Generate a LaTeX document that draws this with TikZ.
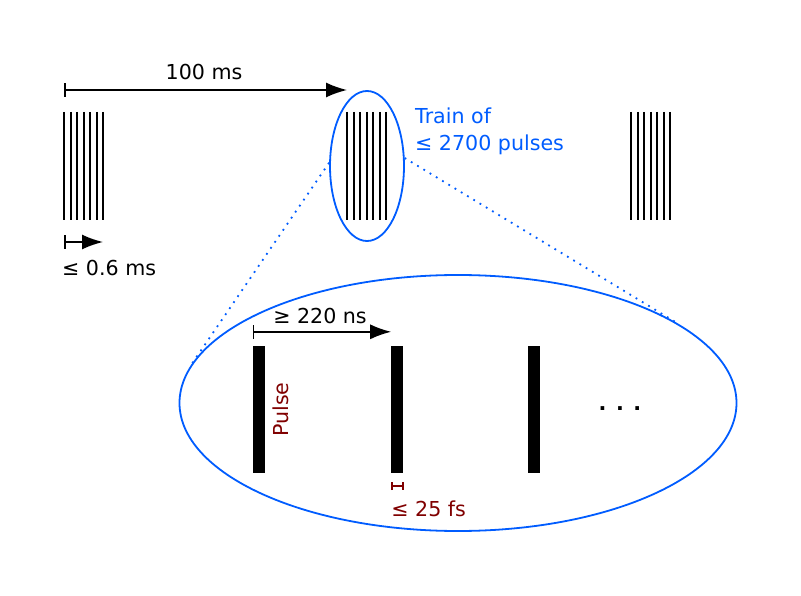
\documentclass[tikz,border=0pt]{standalone}
\usepackage{fontspec}
\setmainfont{DejaVu Sans}
\usepackage{tikz}
\usetikzlibrary{arrows.meta, positioning, shapes.geometric}
\definecolor{ringblue}{RGB}{0,92,255}
\definecolor{pulsered}{RGB}{128,0,0}
\tikzset{
lbl/.style={font=\fontsize{20.6}{27}\selectfont, inner sep=0pt},
train/.style={line width=2pt},
pulse/.style={fill=black, minimum width=12pt, minimum height=127pt, inner sep=0pt},
ring/.style={draw=ringblue, line width=1.8pt, ellipse, inner sep=0pt},
zoomline/.style={ringblue, line width=1.8pt, dash pattern=on 1.8pt off 5.5pt},
span/.style={{Bar[width=14pt]}-{Latex[length=21pt,width=15pt]}, line width=1.6pt},
tiny/.style={{Bar[width=8pt]}-{Bar[width=8pt]}, pulsered, line width=1.5pt}
}

\begin{document}
\begin{tikzpicture}[x=1pt, y=-1pt]
			\useasboundingbox (0,0) rectangle (801,596);
			% pulse trains
			\foreach \t in {64,347,631}
				\foreach \i in {0,...,6}
					\draw[train] (\t+\i*6.55,112) -- (\t+\i*6.55,220);
			% ----
			\coordinate (start) at (64,90);
			\coordinate (next) at (347,90);
			\draw[span] (start) -- (next);
			\node[lbl] (period) at (204,72) {100 ms};
			\coordinate (tstart) at (64,242);
			\coordinate (tend) at (103,242);
			\draw[span] (tstart) -- (tend);
			\node[lbl, anchor=west] (duration) at (62,268) {≤ 0.6 ms};
			% ----
			\node[ring, minimum width=74pt, minimum height=150pt] (small) at (367,166) {};
			\node[lbl, ringblue, anchor=west, align=left] (trainlbl) at (415,131) {Train of\\≤ 2700 pulses};
			\node[ring, minimum width=557pt, minimum height=256pt] (big) at (458,403) {};
			\draw[zoomline] (small.175) -- (big.172);
			\draw[zoomline] (small.12) -- (big.20.6);
			% ----
			\node[pulse] (p1) at (259,409.5) {};
			\node[pulse, right=126pt of p1] (p2) {};
			\node[pulse, right=124pt of p2] (p3) {};
			\node[lbl] (dots) at (620,409) {\textbf{. . .}};
			\draw[span] ([yshift=14pt]p1.north west) -- ([yshift=14pt]p2.north west);
			\node[lbl] (gap) at (320,316) {≥ 220 ns};
			\node[lbl, pulsered, rotate=90, anchor=north] (pulselbl) at ([xshift=7pt]p1.east) {Pulse};
			\draw[tiny] ([yshift=-13pt]p2.south west) -- ([yshift=-13pt]p2.south east);
			\node[lbl, pulsered, anchor=west] (width) at ([yshift=-36pt]p2.south west) {≤ 25 fs};
		\end{tikzpicture}
\end{document}
